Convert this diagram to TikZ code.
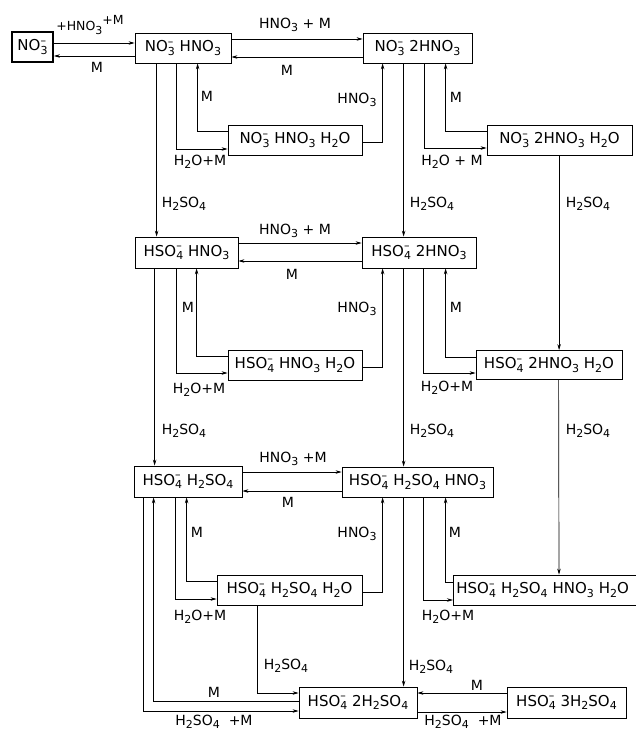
\documentclass[tikz,border=0pt]{standalone}
\usepackage{fontspec}
\setmainfont{DejaVu Sans}
\usetikzlibrary{arrows.meta}
\newcommand\sbs[1]{\raisebox{-3.5pt}{\fontsize{11}{11}\selectfont #1}}
\newcommand\ionss[2]{\rlap{\raisebox{6.5pt}{\fontsize{11}{11}\selectfont #2}}\raisebox{-3.5pt}{\fontsize{11}{11}\selectfont #1}}
\newcommand\nom{NO\ionss{3}{–}}
\newcommand\hsom{HSO\ionss{4}{–}}
\newcommand\hno{HNO\sbs{3}}
\newcommand\hhso{H\sbs{2}SO\sbs{4}}
\newcommand\hho{H\sbs{2}O}
\begin{document}
\begin{tikzpicture}[x=1pt,y=-1pt,
  box/.style={draw, line width=0.8pt, inner sep=0pt, minimum height=30pt, font=\fontsize{15}{17}\selectfont},
  lbl/.style={font=\fontsize{14}{16}\selectfont, inner sep=1pt},
  arr/.style={line width=0.7pt, -{Stealth[length=6pt,width=3.5pt]}}]
\useasboundingbox (0,0) rectangle (636,733);
\fill[white] (0,0) rectangle (636,733);
% boxes
\node[box, line width=1.8pt, minimum width=41pt] (A) at (32.5,47) {\nom};
\node[box, minimum width=96pt] (B) at (183,48) {\nom\ \hno};
\node[box, minimum width=109pt] (C) at (417.5,48) {\nom\ 2\hno};
\node[box, minimum width=134pt] (D) at (295,140) {\nom\ \hno\ \hho};
\node[box, minimum width=145pt] (E) at (559.5,140) {\nom\ 2\hno\ \hho};
\node[box, minimum width=103pt, minimum height=31pt] (F) at (186.5,252.5) {\hsom\ \hno};
\node[box, minimum width=114pt, minimum height=31pt] (G) at (419,252.5) {\hsom\ 2\hno};
\node[box, minimum width=134pt] (H) at (295,365) {\hsom\ \hno\ \hho};
\node[box, minimum width=146pt, minimum height=29pt] (I) at (549,365) {\hsom\ 2\hno\ \hho};
\node[box, minimum width=108pt, minimum height=31pt] (J) at (188,481.5) {\hsom\ \hhso};
\node[box, minimum width=151pt] (K) at (417.5,482) {\hsom\ \hhso\ \hno};
\node[box, minimum width=145pt] (L) at (289.5,590) {\hsom\ \hhso\ \hho};
\node[box, anchor=west, minimum width=202pt, text width=196pt, align=left, inner xsep=3pt] (N) at (453,590) {\hsom\ \hhso\ \hno\ \hho};
\node[box, minimum width=118pt, minimum height=31pt] (P) at (358,702.5) {\hsom\ 2\hhso};
\node[box, minimum width=119pt, minimum height=31pt] (Q) at (566.5,702.5) {\hsom\ 3\hhso};
% row 1
\draw[arr] ([yshift=4pt]A.east) -- ([yshift=5pt]B.west);
\draw[arr] ([yshift=-8pt]B.west) -- ([yshift=-9pt]A.east);
\draw[arr] ([yshift=9pt]B.east) -- ([yshift=9pt]C.west);
\draw[arr] ([yshift=-9pt]C.west) -- ([yshift=-9pt]B.east);
\draw[arr] ([xshift=22pt]B.south west) -- ([xshift=22pt]F.north west);
\draw[arr] ([xshift=42pt]B.south west) |- ([yshift=-9pt]D.west);
\draw[arr] ([yshift=9pt]D.west) -| ([xshift=63pt]B.south west);
\draw[arr] ([yshift=-2pt]D.east) -| ([xshift=20pt]C.south west);
\draw[arr] ([xshift=41pt]C.south west) -- ([xshift=42pt]G.north west);
\draw[arr] ([xshift=62pt]C.south west) |- ([yshift=-8pt]E.west);
\draw[arr] ([yshift=9pt]E.west) -| ([xshift=83pt]C.south west);
\draw[arr] ([xshift=72.5pt]E.south west) -- ([xshift=83.5pt]I.north west);
% row 2
\draw[arr] ([yshift=9.5pt]F.east) -- ([yshift=9.5pt]G.west);
\draw[arr] ([yshift=-8.5pt]G.west) -- ([yshift=-8.5pt]F.east);
\draw[arr] ([xshift=20pt]F.south west) -- ([xshift=21pt]J.north west);
\draw[arr] ([xshift=42pt]F.south west) |- ([yshift=-8pt]H.west);
\draw[arr] ([yshift=9pt]H.west) -| ([xshift=62pt]F.south west);
\draw[arr] ([yshift=-2pt]H.east) -| ([xshift=21pt]G.south west);
\draw[arr] ([xshift=42pt]G.south west) -- ([xshift=62pt]K.north west);
\draw[arr] ([xshift=62pt]G.south west) |- ([yshift=-8pt]I.west);
\draw[arr] ([yshift=8pt]I.west) -| ([xshift=84pt]G.south west);
\draw[arr] ([xshift=83pt]I.south west) -- ([xshift=106pt]N.north west);
% row 3
\draw[arr] ([yshift=9.5pt]J.east) -- ([yshift=10pt]K.west);
\draw[arr] ([yshift=-9pt]K.west) -- ([yshift=-9.5pt]J.east);
\draw[arr] ([xshift=10pt]J.south west) |- ([yshift=-8.5pt]P.west);
\draw[arr] ([yshift=1.5pt]P.west) -| ([xshift=20pt]J.south west);
\draw[arr] ([xshift=42pt]J.south west) |- ([yshift=-9pt]L.west);
\draw[arr] ([yshift=9pt]L.west) -| ([xshift=53pt]J.south west);
\draw[arr] ([yshift=-2pt]L.east) -| ([xshift=41pt]K.south west);
\draw[arr] ([xshift=41pt]L.south west) |- ([yshift=9.5pt]P.west);
\draw[arr] ([xshift=62pt]K.south west) -- ([xshift=105pt]P.north west);
\draw[arr] ([xshift=82pt]K.south west) |- ([yshift=-10pt]N.west);
\draw[arr] ([yshift=8pt]N.west) -| ([xshift=104pt]K.south west);
% row 4
\draw[arr] ([yshift=9.5pt]Q.west) -- ([yshift=9.5pt]P.east);
\draw[arr] ([yshift=-9.5pt]P.east) -- ([yshift=-9.5pt]Q.west);
% labels
\node[lbl, font=\fontsize{12.5}{14}\selectfont] (l1) at (90,25) {+\hno\raisebox{6pt}{+M}};
\node[lbl] (l2) at (97,67) {M};
\node[lbl] (l3) at (295,25) {\hno\ + M};
\node[lbl] (l4) at (287,70) {M};
\node[lbl] (l5) at (207,96) {M};
\node[lbl] (l6) at (200,162) {\hho+M};
\node[lbl] (l7) at (357,100) {\hno};
\node[lbl] (l8) at (456,97) {M};
\node[lbl] (l9) at (452,162) {\hho\ + M};
\node[lbl] (l10) at (184,204) {\hhso};
\node[lbl] (l11) at (432,204) {\hhso};
\node[lbl] (l12) at (588,204) {\hhso};
\node[lbl] (l13) at (295,231) {\hno\ + M};
\node[lbl] (l14) at (292,274) {M};
\node[lbl] (l15) at (188,307) {M};
\node[lbl] (l16) at (357,309) {\hno};
\node[lbl] (l17) at (456,307) {M};
\node[lbl] (l18) at (199,390) {\hho+M};
\node[lbl] (l19) at (447,388) {\hho+M};
\node[lbl] (l20) at (184,431) {\hhso};
\node[lbl] (l21) at (432,431) {\hhso};
\node[lbl] (l22) at (588,431) {\hhso};
\node[lbl] (l23) at (293,459) {\hno\ +M};
\node[lbl] (l24) at (288,502) {M};
\node[lbl] (l25) at (197,532) {M};
\node[lbl] (l26) at (357,534) {\hno};
\node[lbl] (l27) at (455,532) {M};
\node[lbl] (l28) at (200,617) {\hho+M};
\node[lbl] (l29) at (448,617) {\hho+M};
\node[lbl] (l30) at (286,666) {\hhso};
\node[lbl] (l31) at (431,667) {\hhso};
\node[lbl] (l32) at (214,692) {M};
\node[lbl] (l33) at (214,722) {\hhso\ \ +M};
\node[lbl] (l34) at (477,685) {M};
\node[lbl] (l35) at (463,722) {\hhso\ \ +M};
\end{tikzpicture}
\end{document}
